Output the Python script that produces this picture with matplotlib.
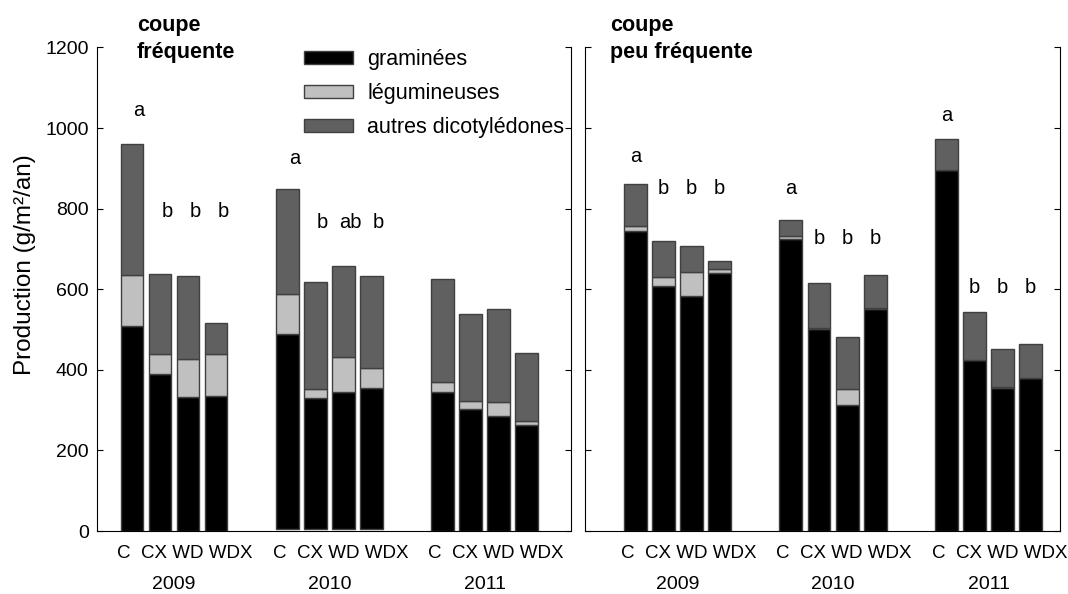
import numpy as np
import matplotlib.pyplot as plt

plt.rcParams['font.family'] = ['Liberation Sans', 'DejaVu Sans']

# Traitements et années
traitements = ['C', 'CX', 'WD', 'WDX']
annees = ['2009', '2010', '2011']

# coupe fréquente (g/m2/an), ordre : 2009 C..WDX, 2010 C..WDX, 2011 C..WDX
freq_gram = [509, 389, 332, 335, 483, 324, 338, 348, 344, 303, 285, 263]
freq_leg = [126, 50, 95, 104, 100, 22, 88, 51, 25, 20, 35, 9]
freq_autres = [325, 200, 205, 77, 259, 266, 225, 229, 257, 216, 230, 171]
freq_base = [0, 0, 0, 0, 6, 6, 6, 6, 0, 0, 0, 0]

# coupe peu fréquente
peu_gram = [745, 608, 583, 640, 725, 502, 313, 550, 895, 424, 355, 380]
peu_leg = [11, 22, 59, 10, 7, 3, 39, 3, 1, 0, 2, 0]
peu_autres = [104, 90, 66, 21, 40, 111, 129, 83, 76, 120, 95, 85]
peu_base = [0] * 12

# Lettres de significativité
freq_lettres = ['a', 'b', 'b', 'b', 'a', 'b', 'ab', 'b', '', '', '', '']
freq_lettres_y = [1043, 793, 793, 793, 925, 765, 765, 765, 0, 0, 0, 0]
peu_lettres = ['a', 'b', 'b', 'b', 'a', 'b', 'b', 'b', 'a', 'b', 'b', 'b']
peu_lettres_y = [929, 850, 850, 850, 850, 726, 726, 726, 1032, 604, 604, 604]

couleurs = ['#000000', '#c0c0c0', '#606060']
noms = ['graminées', 'légumineuses', 'autres dicotylédones']

x = np.array([g * 5.55 + i for g in range(3) for i in range(4)])
centres = x.reshape(3, 4).mean(axis=1)
etiquette = traitements[0] + '  ' + ' '.join(traitements[1:])

fig = plt.figure(figsize=(10.68, 5.94), dpi=100)
ax1 = fig.add_axes([97 / 1068, 63 / 594, 474 / 1068, 483.5 / 594])
ax2 = fig.add_axes([585 / 1068, 63 / 594, 475 / 1068, 483.5 / 594])


def panneau(ax, gram, leg, autres, base, lettres, lettres_y, dx, titre, xlim):
    gram = np.array(gram)
    leg = np.array(leg)
    autres = np.array(autres)
    base = np.array(base)
    bars = []
    bas = base.copy()
    for vals, col, nom in zip([gram, leg, autres], couleurs, noms):
        b = ax.bar(x, vals, width=0.82, bottom=bas, color=col,
                   edgecolor='#404040', linewidth=1, label=nom)
        bars.append(b)
        bas = bas + vals
    for xi, l, ly in zip(x, lettres, lettres_y):
        if l:
            ax.text(xi + dx, ly, l, ha='center', va='center', fontsize=14.5)
    ax.set_ylim(0, 1200)
    ax.set_xlim(*xlim)
    ax.spines['top'].set_visible(False)
    # une étiquette par groupe, comme dans la figure d'origine
    ax.set_xticks(centres + 0.4, [etiquette] * 3, fontsize=13.5)
    ax.tick_params(axis='x', length=0, pad=10)
    ax.tick_params(axis='y', direction='in', length=4, right=True,
                   labelsize=14, pad=6)
    ax.set_yticks(np.arange(0, 1201, 200))
    for c, an in zip(centres, annees):
        ax.text(c, -0.110, an, ha='center', va='center',
                fontsize=14, transform=ax.get_xaxis_transform())
    ax.text(titre[0], 1.068, titre[1], transform=ax.transAxes, ha='left',
            va='top', fontsize=15.5, fontweight='bold', linespacing=1.4)
    return bars


bars = panneau(ax1, freq_gram, freq_leg, freq_autres, freq_base,
               freq_lettres, freq_lettres_y, 0.25, (0.084, 'coupe\nfréquente'),
               (-1.25, 15.68))
panneau(ax2, peu_gram, peu_leg, peu_autres, peu_base,
        peu_lettres, peu_lettres_y, 0.0, (0.053, 'coupe\npeu fréquente'),
        (-1.8, 15.15))
ax2.set_yticklabels([])
ax1.set_ylabel('Production (g/m²/an)', fontsize=17.5)
ax1.yaxis.set_label_coords(-0.129, 0.551)

ax1.legend(handles=bars, loc='upper left', bbox_to_anchor=(0.437, 0.997),
           frameon=False, fontsize=15.5, handlelength=2.28, handleheight=0.56,
           labelspacing=0.61, handletextpad=0.65, borderpad=0,
           borderaxespad=0)

plt.savefig('out.png', dpi=100)
